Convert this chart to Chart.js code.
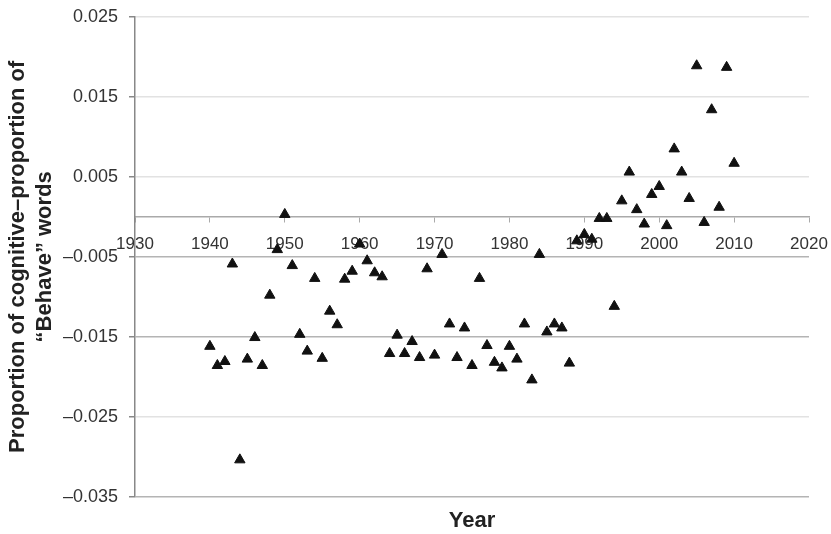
<!DOCTYPE html>
<html>
<head>
<meta charset="utf-8">
<script src="https://cdn.jsdelivr.net/npm/chart.js@4/dist/chart.umd.min.js"></script>
<style>
  html, body { margin: 0; padding: 0; background: #fff; }
  #wrap { width: 831px; height: 534px; }
</style>
</head>
<body>
<div id="wrap"><canvas id="scatter"></canvas></div>
<script>
var years = [
  1940, 1941, 1942, 1943, 1944, 1945, 1946, 1947, 1948, 1949,
  1950, 1951, 1952, 1953, 1954, 1955, 1956, 1957, 1958, 1959,
  1960, 1961, 1962, 1963, 1964, 1965, 1966, 1967, 1968, 1969,
  1970, 1971, 1972, 1973, 1974, 1975, 1976, 1977, 1978, 1979,
  1980, 1981, 1982, 1983, 1984, 1985, 1986, 1987, 1988, 1989,
  1990, 1991, 1992, 1993, 1994, 1995, 1996, 1997, 1998, 1999,
  2000, 2001, 2002, 2003, 2004, 2005, 2006, 2007, 2008, 2009,
  2010
];

var proportionDiff = [
  -0.0162, -0.0186, -0.0181, -0.0059, -0.0304, -0.0178, -0.0151, -0.0186, -0.0098, -0.0041,
   0.0003, -0.0061, -0.0147, -0.0168, -0.0077, -0.0177, -0.0118, -0.0135, -0.0078, -0.0068,
  -0.0034, -0.0055, -0.0070, -0.0075, -0.0171, -0.0148, -0.0171, -0.0156, -0.0176, -0.0065,
  -0.0173, -0.0047, -0.0134, -0.0176, -0.0139, -0.0186, -0.0077, -0.0161, -0.0182, -0.0189,
  -0.0162, -0.0178, -0.0134, -0.0204, -0.0047, -0.0144, -0.0134, -0.0139, -0.0183, -0.0030,
  -0.0022, -0.0028, -0.0002, -0.0002, -0.0112,  0.0020,  0.0056,  0.0009, -0.0009,  0.0028,
   0.0038, -0.0011,  0.0085,  0.0056,  0.0023,  0.0189, -0.0007,  0.0134,  0.0012,  0.0187,
   0.0067
];

var xTicks = [1930, 1940, 1950, 1960, 1970, 1980, 1990, 2000, 2010, 2020];
var yTicks = [-0.035, -0.025, -0.015, -0.005, 0.005, 0.015, 0.025];

var yTitle = ['Proportion of cognitive\u2013proportion of', '\u201cBehave\u201d words'];
var xTitle = 'Year';

var points = years.map(function (yr, i) { return { x: yr, y: proportionDiff[i] }; });
var darkLines = [-0.005, -0.015, -0.035];

var ctx = document.getElementById('scatter').getContext('2d');
var myChart = new Chart(ctx, {
  type: 'scatter',
  data: {
    datasets: [{
      label: 'diff',
      data: points,
      pointStyle: 'triangle',
      pointRadius: 6,
      pointBorderWidth: 1,
      backgroundColor: '#111',
      borderColor: '#111'
    }]
  },
  options: {
    responsive: true,
    maintainAspectRatio: false,
    animation: false,
    layout: { padding: { top: 17, right: 22, left: 0, bottom: 0 } },
    plugins: {
      legend: { display: false },
      tooltip: { enabled: false },
      title: {
        display: true,
        position: 'bottom',
        fullSize: false,
        text: xTitle,
        color: '#222',
        font: { family: 'Liberation Sans', size: 22, weight: 'bold' },
        padding: { top: 11, bottom: 0 }
      }
    },
    scales: {
      x: {
        type: 'linear',
        position: { y: 0 },
        min: xTicks[0],
        max: xTicks[xTicks.length - 1],
        afterBuildTicks: function (scale) {
          scale.ticks = xTicks.map(function (v) { return { value: v }; });
        },
        afterFit: function (scale) {
          scale.paddingLeft = 0;
          scale.paddingRight = 0;
        },
        ticks: {
          color: '#333',
          padding: 12,
          maxRotation: 0,
          font: { family: 'Liberation Sans', size: 17 },
          callback: function (v) { return String(v); }
        },
        grid: {
          drawOnChartArea: false,
          drawTicks: true,
          tickLength: 5,
          tickColor: '#aaa'
        },
        border: { display: true, color: '#aaa', width: 1.5 }
      },
      y: {
        type: 'linear',
        min: yTicks[0],
        max: yTicks[yTicks.length - 1],
        afterBuildTicks: function (scale) {
          scale.ticks = yTicks.map(function (v) { return { value: v }; });
        },
        afterFit: function (scale) {
          scale.width = 135;
          scale.paddingTop = 0;
          scale.paddingBottom = 0;
        },
        ticks: {
          color: '#333',
          padding: 11,
          font: { family: 'Liberation Sans', size: 18 },
          callback: function (v) { return v.toFixed(3).replace('-', '\u2013'); }
        },
        grid: {
          tickLength: 6,
          tickColor: '#888',
          lineWidth: 1.5,
          color: function (c) {
            if (c.tick && darkLines.indexOf(Math.round(c.tick.value * 1000) / 1000) >= 0) return '#b4b4b4';
            return '#e2e2e2';
          }
        },
        border: { display: true, color: '#888', width: 1.5 },
        title: {
          display: true,
          text: yTitle,
          color: '#222',
          font: { family: 'Liberation Sans', size: 22, weight: 'bold', lineHeight: 1.2 },
          padding: { top: 5, bottom: 0 }
        }
      }
    }
  }
});
</script>
</body>
</html>
